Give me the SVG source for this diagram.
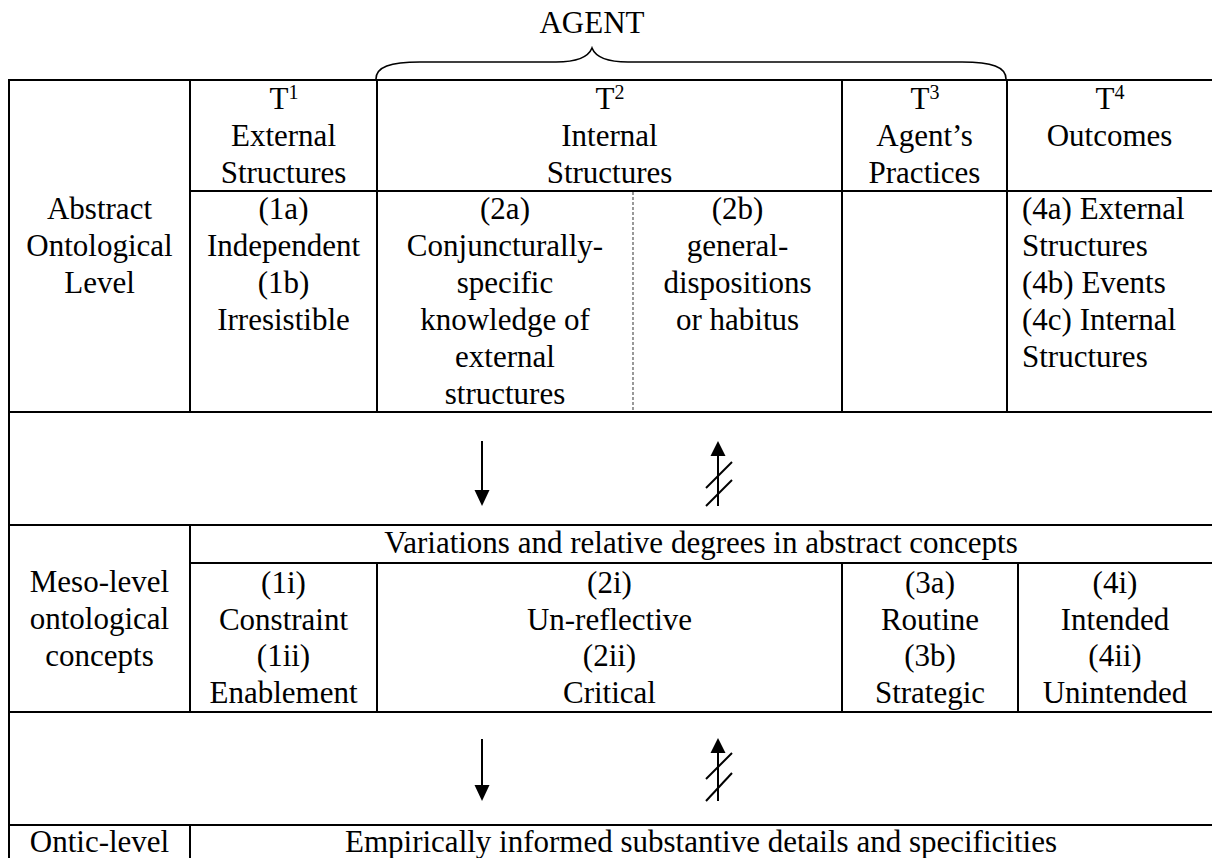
<svg xmlns="http://www.w3.org/2000/svg" width="1212" height="858" viewBox="0 0 1212 858">
<style>
text{font-family:"Liberation Serif","Times New Roman",serif;font-size:31px;fill:#000}
.c{text-anchor:middle}
.sup{font-size:20px}
.grid line{stroke:#000;stroke-width:2}
.dot{stroke:#555;stroke-width:1.2;stroke-dasharray:3 2;fill:none}
.brace{fill:none;stroke:#000;stroke-width:1.6}
.arr{stroke:#000;stroke-width:2}
.head{fill:#000}
</style>
<rect width="1212" height="858" fill="#fff"/>

<g id="agent">
<text class="c" x="592" y="33">AGENT</text>
<path class="brace" d="M376,79 C376,67 390,62 420,62 L556,62 C576,62 588,58 592,48 C596,58 608,62 628,62 L962,62 C992,62 1006,67 1006,79"/>
</g>

<g class="grid" id="grid">
<line x1="8" y1="80" x2="1212" y2="80"/>
<line x1="190" y1="191" x2="1212" y2="191"/>
<line x1="8" y1="412" x2="1212" y2="412"/>
<line x1="8" y1="525" x2="1212" y2="525"/>
<line x1="190" y1="563" x2="1212" y2="563"/>
<line x1="8" y1="712" x2="1212" y2="712"/>
<line x1="8" y1="825" x2="1212" y2="825"/>
<line x1="9" y1="79" x2="9" y2="858"/>
<line x1="190" y1="80" x2="190" y2="412"/>
<line x1="377" y1="80" x2="377" y2="412"/>
<line x1="842" y1="80" x2="842" y2="412"/>
<line x1="1007" y1="80" x2="1007" y2="412"/>
<line x1="190" y1="525" x2="190" y2="712"/>
<line x1="377" y1="563" x2="377" y2="712"/>
<line x1="842" y1="563" x2="842" y2="712"/>
<line x1="1018" y1="563" x2="1018" y2="712"/>
<line x1="190" y1="825" x2="190" y2="858"/>
</g>
<line class="dot" x1="633" y1="192" x2="633" y2="411"/>

<g id="abstract-label">
<text class="c" x="99.5" y="219">Abstract</text>
<text class="c" x="99.5" y="256">Ontological</text>
<text class="c" x="99.5" y="293">Level</text>
</g>
<g id="t1-head">
<text class="c" x="284" y="109">T<tspan class="sup" dy="-10">1</tspan></text>
<text class="c" x="283.5" y="146">External</text>
<text class="c" x="283.5" y="183">Structures</text>
</g>
<g id="t2-head">
<text class="c" x="610" y="109">T<tspan class="sup" dy="-10">2</tspan></text>
<text class="c" x="609.5" y="146">Internal</text>
<text class="c" x="609.5" y="183">Structures</text>
</g>
<g id="t3-head">
<text class="c" x="925" y="109">T<tspan class="sup" dy="-10">3</tspan></text>
<text class="c" x="924.5" y="146">Agent’s</text>
<text class="c" x="924.5" y="183">Practices</text>
</g>
<g id="t4-head">
<text class="c" x="1110" y="109">T<tspan class="sup" dy="-10">4</tspan></text>
<text class="c" x="1109.5" y="146">Outcomes</text>
</g>

<g id="t1-abstract">
<text class="c" x="283.5" y="219">(1a)</text>
<text class="c" x="283.5" y="256">Independent</text>
<text class="c" x="283.5" y="293">(1b)</text>
<text class="c" x="283.5" y="330">Irresistible</text>
</g>
<g id="t2a-abstract">
<text class="c" x="505" y="219">(2a)</text>
<text class="c" x="505" y="256">Conjuncturally-</text>
<text class="c" x="505" y="293">specific</text>
<text class="c" x="505" y="330">knowledge of</text>
<text class="c" x="505" y="367">external</text>
<text class="c" x="505" y="404">structures</text>
</g>
<g id="t2b-abstract">
<text class="c" x="737.5" y="219">(2b)</text>
<text class="c" x="737.5" y="256">general-</text>
<text class="c" x="737.5" y="293">dispositions</text>
<text class="c" x="737.5" y="330">or habitus</text>
</g>
<g id="t4-abstract">
<text x="1022" y="219">(4a) External</text>
<text x="1022" y="256">Structures</text>
<text x="1022" y="293">(4b) Events</text>
<text x="1022" y="330">(4c) Internal</text>
<text x="1022" y="367">Structures</text>
</g>

<g id="meso-label">
<text class="c" x="99.5" y="592">Meso-level</text>
<text class="c" x="99.5" y="629">ontological</text>
<text class="c" x="99.5" y="666">concepts</text>
</g>
<g id="variations">
<text class="c" x="701" y="553">Variations and relative degrees in abstract concepts</text>
</g>
<g id="t1-meso">
<text class="c" x="283.5" y="593">(1i)</text>
<text class="c" x="283.5" y="630">Constraint</text>
<text class="c" x="283.5" y="666">(1ii)</text>
<text class="c" x="283.5" y="703">Enablement</text>
</g>
<g id="t2-meso">
<text class="c" x="609.5" y="593">(2i)</text>
<text class="c" x="609.5" y="630">Un-reflective</text>
<text class="c" x="609.5" y="666">(2ii)</text>
<text class="c" x="609.5" y="703">Critical</text>
</g>
<g id="t3-meso">
<text class="c" x="930" y="593">(3a)</text>
<text class="c" x="930" y="630">Routine</text>
<text class="c" x="930" y="666">(3b)</text>
<text class="c" x="930" y="703">Strategic</text>
</g>
<g id="t4-meso">
<text class="c" x="1115" y="593">(4i)</text>
<text class="c" x="1115" y="630">Intended</text>
<text class="c" x="1115" y="666">(4ii)</text>
<text class="c" x="1115" y="703">Unintended</text>
</g>

<g id="ontic-label">
<text class="c" x="99.5" y="852">Ontic-level</text>
</g>
<g id="ontic-content">
<text class="c" x="701" y="852">Empirically informed substantive details and specificities</text>
</g>

<g id="connectors">
<line class="arr" x1="482" y1="441" x2="482" y2="492"/>
<polygon class="head" points="474.5,490 489.5,490 482,506"/>
<line class="arr" x1="718" y1="454" x2="718" y2="506"/>
<polygon class="head" points="710.5,456 725.5,456 718,441"/>
<line class="arr" x1="706" y1="488" x2="732" y2="462"/>
<line class="arr" x1="706" y1="506" x2="732" y2="480"/>

<line class="arr" x1="482" y1="739" x2="482" y2="786"/>
<polygon class="head" points="474.5,785 489.5,785 482,801"/>
<line class="arr" x1="718" y1="751" x2="718" y2="801"/>
<polygon class="head" points="710.5,753 725.5,753 718,738"/>
<line class="arr" x1="706" y1="779" x2="732" y2="753"/>
<line class="arr" x1="706" y1="801" x2="732" y2="773"/>
</g>
</svg>
